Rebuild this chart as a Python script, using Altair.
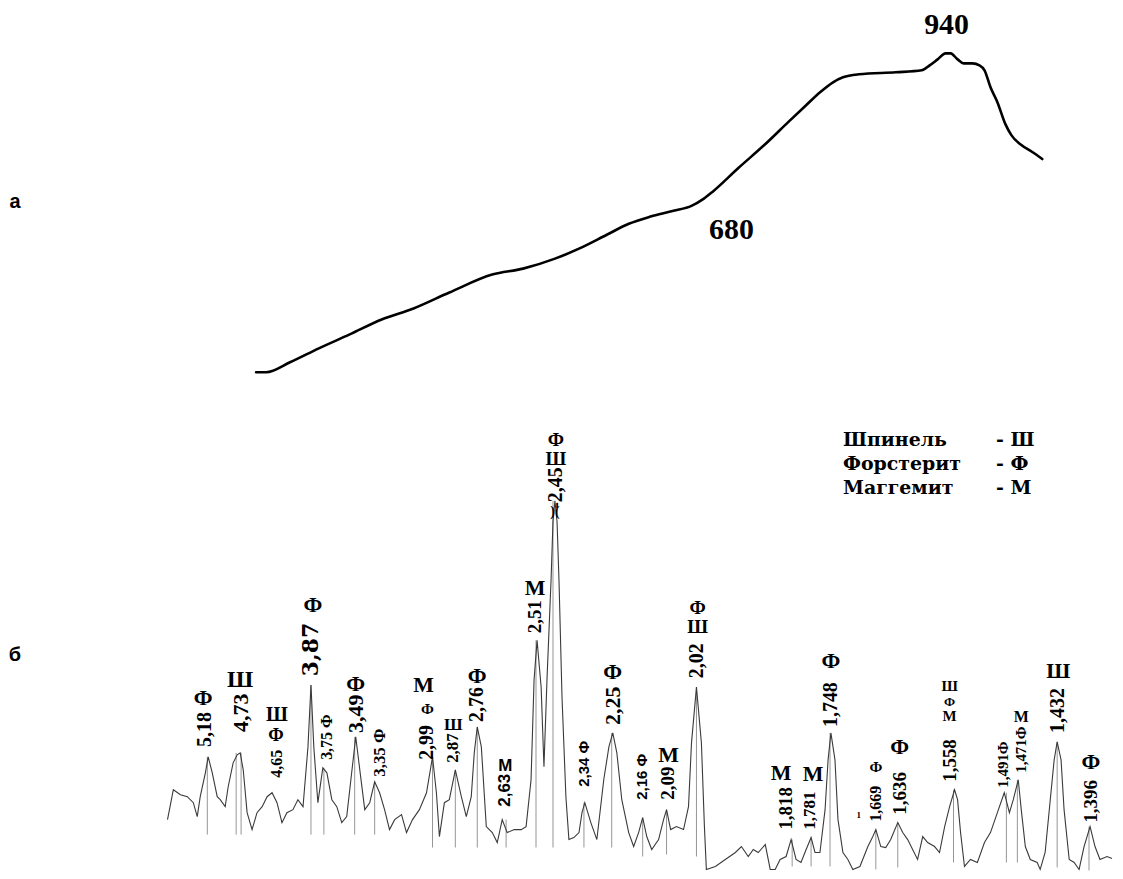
import altair as alt
import pandas as pd

# ---------------- panel a: thermal curve ----------------
temp_c = [188.8, 199.7, 225.7, 257.1, 290.7, 325.4, 360.1, 399.1, 445.7, 479.3, 514.0,
          540.1, 570.4, 594.3, 617.0, 643.0, 662.5, 675.6, 685.3, 713.5, 741.7, 767.7,
          787.2, 802.4, 816.5, 827.3, 844.7, 884.8, 913.0, 921.6, 930.3, 939.0, 944.4,
          952.0, 958.5, 968.2, 975.8, 981.3, 987.8, 995.3, 1004.0, 1010.5, 1021.4,
          1033.3, 1044.1]
signal = [29, 29, 39, 53, 67, 82, 93, 109, 127, 133, 143,
          153, 167, 178, 185, 191, 196, 203, 210, 234, 257, 280,
          297, 310, 320, 325, 328, 330, 332, 337, 343, 349, 349,
          343, 339, 339, 337, 332, 315, 300, 278, 267, 257,
          250, 243]
top_label_text = ["940", "680"]
top_label_x = [940.0, 706.0]
top_label_y = [377, 172]

# ---------------- panel b: XRD pattern ----------------
two_theta = [14.87, 15.20, 15.60, 15.99, 16.33, 16.55, 16.72, 17.01, 17.17, 17.40, 17.68, 17.85,
             18.13, 18.30, 18.58, 18.81, 18.98, 19.15, 19.37, 19.65, 19.93, 20.22, 20.50, 20.78,
             21.06, 21.34, 21.62, 21.96, 22.24, 22.53, 22.81, 22.98, 23.14, 23.37, 23.65, 23.88,
             24.16, 24.44, 24.72, 25.00, 25.28, 25.51, 25.74, 26.02, 26.30, 26.58, 26.86, 27.14,
             27.42, 27.71, 28.10, 28.38, 28.72, 29.11, 29.51, 29.85, 30.07, 30.24, 30.52, 30.80,
             31.14, 31.48, 31.76, 32.04, 32.21, 32.38, 32.61, 32.89, 33.23, 33.51, 33.79, 34.07,
             34.47, 34.86, 35.14, 35.42, 35.59, 35.76, 35.99, 36.15, 36.32, 36.55, 36.66, 36.77,
             36.89, 37.00, 37.17, 37.39, 37.56, 37.84, 38.13, 38.30, 38.46, 38.80, 39.14, 39.53,
             39.82, 40.04, 40.27, 40.55, 40.94, 41.22, 41.50, 41.73, 41.96, 42.24, 42.63, 42.91,
             43.08, 43.31, 43.64, 44.04, 44.32, 44.49, 44.77, 45.05, 45.22, 45.33, 45.84, 46.40,
             46.97, 47.31, 47.70, 47.98, 48.26, 48.66, 48.94, 49.22, 49.50, 49.84, 50.12, 50.40,
             50.68, 50.97, 51.25, 51.47, 51.75, 52.04, 52.21, 52.37, 52.60, 52.77, 53.05, 53.33,
             53.61, 54.01, 54.46, 54.74, 54.91, 55.19, 55.47, 55.75, 56.15, 56.43, 56.71, 56.99,
             57.27, 57.56, 57.84, 58.23, 58.51, 58.80, 59.08, 59.36, 59.53, 59.70, 59.92, 60.26,
             60.65, 61.05, 61.39, 61.78, 62.17, 62.46, 62.68, 62.96, 63.13, 63.36, 63.64, 64.03,
             64.20, 64.48, 64.77, 64.99, 65.16, 65.38, 65.55, 65.84, 66.12, 66.40, 66.68, 67.02,
             67.30, 67.58, 67.98, 68.26]
intensity = [51, 81, 76, 74, 68, 54, 74, 98, 114, 98, 74, 71,
             64, 84, 108, 116, 118, 101, 58, 41, 58, 64, 74, 78,
             68, 48, 58, 61, 71, 64, 124, 186, 124, 68, 103, 98,
             71, 64, 48, 54, 98, 134, 101, 61, 68, 89, 78, 61,
             41, 51, 56, 38, 51, 61, 78, 114, 78, 34, 68, 71,
             101, 74, 54, 74, 118, 144, 124, 44, 38, 28, 51, 38,
             41, 41, 44, 91, 191, 231, 184, 104, 191, 291, 350, 371,
             350, 291, 174, 74, 31, 33, 38, 58, 68, 48, 31, 91,
             124, 138, 118, 71, 38, 24, 38, 53, 34, 21, 31, 51,
             61, 41, 44, 41, 64, 128, 184, 128, 44, 1, 4, 11,
             18, 24, 14, 21, 18, 26, 1, 1, 11, 14, 31, 11,
             8, 21, 33, 18, 18, 61, 111, 138, 111, 51, 18, 11,
             1, 4, 24, 34, 41, 24, 23, 31, 48, 38, 31, 21,
             11, 34, 28, 24, 18, 44, 64, 81, 71, 38, 4, 11,
             8, 28, 38, 58, 78, 58, 71, 91, 61, 24, 11, 8,
             1, 18, 71, 111, 129, 111, 61, 11, 8, 1, 24, 44,
             24, 11, 14, 12]

# drop lines under the indexed peaks
peak_pos = [17.12, 18.75, 19.03, 22.98, 23.71, 25.45, 26.58, 29.85, 31.14, 32.38, 34.01,
            35.70, 36.66, 38.41, 39.98, 41.73, 43.08, 44.77, 50.18, 51.25, 52.32, 54.91,
            56.15, 59.30, 62.29, 62.91, 65.16, 66.96]
peak_top = [114, 118, 118, 186, 103, 134, 89, 114, 101, 144, 51,
            231, 371, 68, 138, 53, 61, 184, 31, 33, 138, 41,
            48, 81, 78, 91, 129, 44]
peak_base = [36, 36, 36, 36, 36, 36, 36, 23, 23, 23, 23,
             23, 23, 23, 23, 14, 16, 14, 4, 4, 4, 1,
             3, 8, 8, 8, 3, 0]

# d-spacing labels (rotated)
d_text = ["5,18", "4,73", "4,65", "3,87", "3,75 Ф", "3,49", "3,35 Ф", "2,99", "2,87", "2,76",
          "2,63", "2,51", "-2,45", "2,34 Ф", "2,25", "2,16 Ф", "2,09", "2,02", "1,818",
          "1,781", "1,748", "1,669", "1,636", "1,558", "1,491Ф", "1,471Ф", "1,432", "1,396"]
d_x = [17.01, 19.03, 21.06, 22.98, 23.88, 25.51, 26.86, 29.56, 31.03, 32.38,
       33.96, 35.65, 36.83, 38.41, 40.04, 41.67, 43.19, 44.83, 49.84,
       51.19, 52.37, 54.91, 56.26, 59.08, 62.12, 63.13, 65.22, 67.07]
d_y = [124, 139, 93, 195, 111, 138, 94, 111, 108, 149,
       64, 238, 363, 84, 146, 71, 71, 193, 41,
       41, 144, 49, 56, 89, 83, 98, 138, 48]
d_size = [20, 22, 16, 22, 16, 22, 17, 20, 17, 20,
          17, 19, 20, 15, 22, 15, 19, 20, 19,
          17, 20, 16, 19, 19, 15, 15, 20, 19]
d_font = ["Liberation Serif"] * 28
d_font[3] = "DejaVu Serif"
for i in (10, 13, 15):
    d_font[i] = "Liberation Sans"

# phase letters (upright)
ph_text = ["Ф", "Ш", "Ф", "Ш", "Ф", "Ф", "Ф", "М", "Ш", "Ф", "М", "М", "Ш", "Ф", ")(",
           "Ф", "М", "Ш", "Ф", "М", "М", "Ф", "Ф", "1", "Ф", "М", "Ф", "Ш", "М", "Ш", "Ф"]
ph_x = [16.89, 18.98, 21.00, 21.06, 23.09, 25.51, 29.56, 29.34, 31.03, 32.38, 33.96, 35.65,
        36.83, 36.83, 36.77, 40.04, 43.19, 44.83, 44.83, 49.56, 51.36, 52.37, 54.91, 53.95,
        56.26, 59.08, 59.08, 59.08, 63.13, 65.22, 67.07]
ph_y = [173, 191, 135, 156, 266, 187, 162, 186, 146, 195, 105, 283,
        413, 432, 360, 199, 116, 244, 263, 98, 97, 210, 104, 56,
        124, 155, 169, 185, 154, 200, 109]
ph_size = [22, 24, 18, 20, 22, 22, 15, 22, 17, 22, 17, 22,
           19, 19, 14, 22, 22, 19, 19, 22, 22, 22, 15, 9,
           22, 15, 13, 15, 16, 22, 22]
ph_font = ["Liberation Serif"] * 31
ph_font[10] = "Liberation Sans"

# legend
legend_names = ["Шпинель", "Форстерит", "Маггемит"]
legend_codes = ["Ш", "Ф", "М"]
legend_y = [432, 408, 384]

# ---------------- build ----------------
W = 1107
H_TOP = 392
H_BOT = 471

xa = alt.Scale(domain=[-80, 1120], nice=False, zero=False)
ya = alt.Scale(domain=[0, H_TOP], nice=False, zero=False)
xb = alt.Scale(domain=[5.91, 68.26], nice=False, zero=False)
yb = alt.Scale(domain=[0, H_BOT], nice=False, zero=False)

top_df = pd.DataFrame({"t": temp_c, "s": signal})
curve = alt.Chart(top_df).mark_line(color="black", strokeWidth=2.6, interpolate="monotone",
                                    strokeCap="round", strokeJoin="round").encode(
    x=alt.X("t:Q", scale=xa, axis=None), y=alt.Y("s:Q", scale=ya, axis=None))

top_lbl_df = pd.DataFrame({"t": top_label_x, "s": top_label_y, "txt": top_label_text})
top_lbl = alt.Chart(top_lbl_df).mark_text(font="Liberation Serif", fontWeight="bold",
                                          fontSize=30, color="black").encode(
    x=alt.X("t:Q", scale=xa, axis=None), y=alt.Y("s:Q", scale=ya, axis=None), text="txt:N")

a_df = pd.DataFrame({"t": [-73.5], "s": [200], "txt": ["а"]})
a_lbl = alt.Chart(a_df).mark_text(font="Liberation Sans", fontWeight="bold", fontSize=20,
                                  color="black").encode(
    x=alt.X("t:Q", scale=xa, axis=None), y=alt.Y("s:Q", scale=ya, axis=None), text="txt:N")

top = alt.layer(curve, top_lbl, a_lbl).properties(width=W, height=H_TOP)

trace_df = pd.DataFrame({"tt": two_theta, "i": intensity})
trace = alt.Chart(trace_df).mark_line(color="#3a3a3a", strokeWidth=1.1).encode(
    x=alt.X("tt:Q", scale=xb, axis=None), y=alt.Y("i:Q", scale=yb, axis=None))

rules_df = pd.DataFrame({"tt": peak_pos, "top": peak_top, "base": peak_base})
rules = alt.Chart(rules_df).mark_rule(color="#8a8a8a", strokeWidth=0.9).encode(
    x=alt.X("tt:Q", scale=xb, axis=None), y=alt.Y("top:Q", scale=yb, axis=None), y2="base:Q")

d_df = pd.DataFrame({"tt": d_x, "i": d_y, "txt": d_text, "sz": d_size, "f": d_font})
d_layers = []
for fam in ["Liberation Serif", "DejaVu Serif", "Liberation Sans"]:
    d_layers.append(
        alt.Chart(d_df[d_df["f"] == fam]).mark_text(
            font=fam, fontWeight="bold", angle=270, align="left", baseline="middle",
            color="black").encode(
            x=alt.X("tt:Q", scale=xb, axis=None), y=alt.Y("i:Q", scale=yb, axis=None),
            text="txt:N", size=alt.Size("sz:Q", scale=None, legend=None)))

ph_df = pd.DataFrame({"tt": ph_x, "i": ph_y, "txt": ph_text, "sz": ph_size, "f": ph_font})
ph_layers = []
for fam in ["Liberation Serif", "Liberation Sans"]:
    ph_layers.append(
        alt.Chart(ph_df[ph_df["f"] == fam]).mark_text(
            font=fam, fontWeight="bold", align="center", baseline="middle",
            color="black").encode(
            x=alt.X("tt:Q", scale=xb, axis=None), y=alt.Y("i:Q", scale=yb, axis=None),
            text="txt:N", size=alt.Size("sz:Q", scale=None, legend=None)))

leg_df = pd.DataFrame({"name": legend_names, "code": ["- " + c for c in legend_codes],
                       "i": legend_y, "xn": [53.05] * 3, "xc": [61.70] * 3})
leg_names = alt.Chart(leg_df).mark_text(font="DejaVu Serif", fontWeight="bold", fontSize=19,
                                        align="left", baseline="middle", color="black").encode(
    x=alt.X("xn:Q", scale=xb, axis=None), y=alt.Y("i:Q", scale=yb, axis=None), text="name:N")
leg_codes = alt.Chart(leg_df).mark_text(font="DejaVu Serif", fontWeight="bold", fontSize=19,
                                        align="left", baseline="middle", color="black").encode(
    x=alt.X("xc:Q", scale=xb, axis=None), y=alt.Y("i:Q", scale=yb, axis=None), text="code:N")

b_df = pd.DataFrame({"tt": [6.25], "i": [216], "txt": ["б"]})
b_lbl = alt.Chart(b_df).mark_text(font="Liberation Sans", fontWeight="bold", fontSize=20,
                                  color="black").encode(
    x=alt.X("tt:Q", scale=xb, axis=None), y=alt.Y("i:Q", scale=yb, axis=None), text="txt:N")

bottom = alt.layer(rules, trace, *d_layers, *ph_layers, leg_names, leg_codes, b_lbl).properties(
    width=W, height=H_BOT)

chart = alt.vconcat(top, bottom, spacing=0).properties(padding=0).configure_view(
    stroke="transparent", strokeWidth=0)

chart.save("out.html", embed_options={"renderer": "svg", "actions": False})
